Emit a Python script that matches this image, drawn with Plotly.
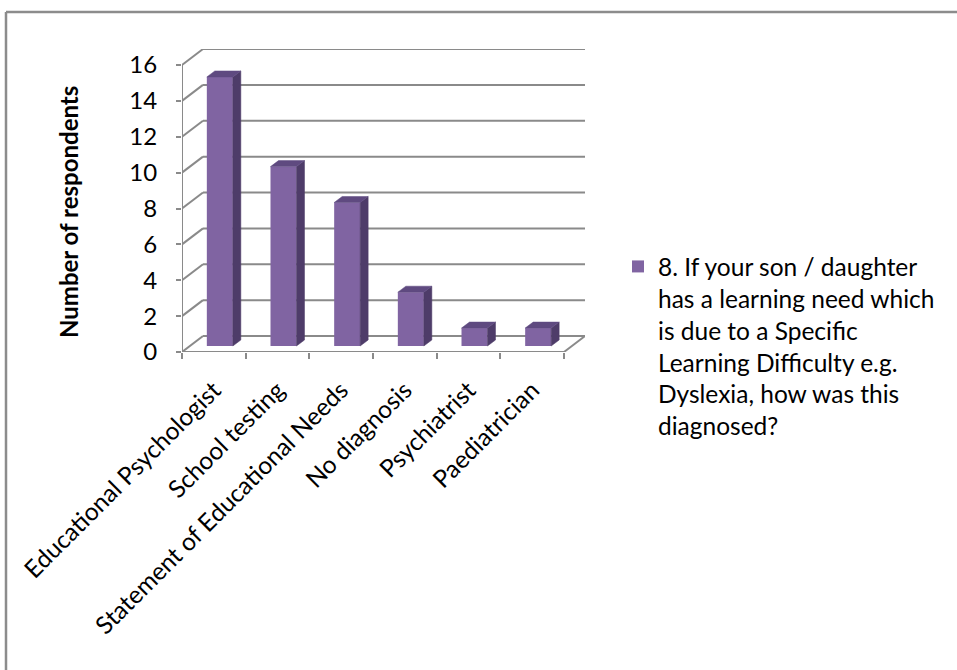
import plotly.graph_objects as go

categories = ["Educational Psychologist", "School testing", "Statement of Educational Needs",
              "No diagnosis", "Psychiatrist", "Paediatrician"]
values = [15, 10, 8, 3, 1, 1]
y_ticks = [0, 2, 4, 6, 8, 10, 12, 14, 16]
series_name = ("8. If your son / daughter<br>has a learning need which<br>is due to a Specific<br>"
               "Learning Difficulty e.g.<br>Dyslexia, how was this<br>diagnosed?")
y_title = "Number of respondents"

W, H = 957, 670
ML, MT = 182, 49
PLOT_R, PLOT_B = 585, 352
MR, MB = W - PLOT_R, H - PLOT_B
PW, PH = PLOT_R - ML, PLOT_B - MT

n = len(categories)
PXU = (564 - 182) / n          # px per category
PYU = (352 - 65) / 16          # px per value unit
DX, DY = 21 / PXU, 16 / PYU    # wall depth
XR0 = -0.5
XR1 = n - 0.5 + DX
YR1 = PH / PYU

BW = 26 / PXU                  # bar width
XOFF, YOFF = 6 / PXU, 6 / PYU  # bar position inside floor depth
BDX, BDY = 8 / PXU, 6 / PYU    # bar depth

FONT = "Lato"
GRID = "#8a8a8a"
FRONT, SIDE, TOP = "#8064A2", "#4E3C69", "#5F4A80"

fig = go.Figure()

xc = [i + XOFF for i in range(n)]
fig.add_trace(go.Bar(x=xc, y=values, base=YOFF, width=BW, name=series_name,
                     marker=dict(color=FRONT, line=dict(width=0)), hoverinfo="skip"))

sx, sy, tx, ty = [], [], [], []
for c, v in zip(xc, values):
    xl, xr = c - BW / 2, c + BW / 2
    b, t = YOFF, YOFF + v
    sx += [xr, xr + BDX, xr + BDX, xr, xr, None]
    sy += [b, b + BDY, t + BDY, t, b, None]
    tx += [xl, xl + BDX, xr + BDX, xr, xl, None]
    ty += [t, t + BDY, t + BDY, t, t, None]
fig.add_trace(go.Scatter(x=sx, y=sy, mode="lines", fill="toself", fillcolor=SIDE,
                         line=dict(width=0.5, color=SIDE), showlegend=False, hoverinfo="skip"))
fig.add_trace(go.Scatter(x=tx, y=ty, mode="lines", fill="toself", fillcolor=TOP,
                         line=dict(width=0.5, color=TOP), showlegend=False, hoverinfo="skip"))

# walls / grid (below traces)
shapes = []
for v in y_ticks:
    shapes.append(dict(type="line", xref="x", yref="y", x0=-0.5, y0=v, x1=-0.5 + DX, y1=v + DY,
                       line=dict(color=GRID, width=2), layer="below"))
    shapes.append(dict(type="line", xref="x", yref="y", x0=-0.5 + DX, y0=v + DY, x1=n - 0.5 + DX, y1=v + DY,
                       line=dict(color=GRID, width=2), layer="below"))
# front y axis line
shapes.append(dict(type="line", xref="x", yref="y", x0=-0.5, y0=0, x1=-0.5, y1=y_ticks[-1],
                   line=dict(color=GRID, width=2), layer="below"))
# floor front edge and right edge
shapes.append(dict(type="line", xref="x", yref="y", x0=-0.5, y0=0, x1=n - 0.5, y1=0,
                   line=dict(color=GRID, width=2), layer="below"))
shapes.append(dict(type="line", xref="x", yref="y", x0=n - 0.5, y0=0, x1=n - 0.5 + DX, y1=DY,
                   line=dict(color=GRID, width=2), layer="below"))
# outer chart border (top and left)
bx = (6 - ML) / PW
by = (PLOT_B - 12) / PH
shapes.append(dict(type="line", xref="paper", yref="paper", x0=bx, y0=by, x1=(W + 5 - ML) / PW, y1=by,
                   line=dict(color="#8c8c8c", width=2.5)))
shapes.append(dict(type="line", xref="paper", yref="paper", x0=bx, y0=by, x1=bx, y1=(PLOT_B - H - 5) / PH,
                   line=dict(color="#8c8c8c", width=2.5)))

fig.update_layout(
    width=W, height=H,
    margin=dict(l=ML, r=MR, t=MT, b=MB, autoexpand=False),
    paper_bgcolor="white", plot_bgcolor="white",
    font=dict(family=FONT, color="#000000", size=24),
    shapes=shapes,
    showlegend=True,
    legend=dict(x=(618 - ML) / PW, y=(PLOT_B - 244) / PH, xanchor="left", yanchor="top",
                valign="top", font=dict(family=FONT, size=24.5, color="#000000"),
                bgcolor="rgba(0,0,0,0)", itemwidth=30, tracegroupgap=0),
    xaxis=dict(range=[XR0, XR1], tickmode="array", tickvals=list(range(n)), ticktext=categories,
               tickangle=-45, ticks="", showgrid=False, zeroline=False, showline=False,
               ticklabelstandoff=18,
               tickfont=dict(family=FONT, size=24.5, color="#000000"),
               minor=dict(tickmode="array", tickvals=[i - 0.5 for i in range(n + 1)], ticks="outside",
                          ticklen=6, tickwidth=2, tickcolor=GRID, showgrid=False),
               fixedrange=True),
    yaxis=dict(range=[0, YR1], tickmode="array", tickvals=y_ticks, ticks="outside", ticklen=5,
               tickwidth=2, tickcolor=GRID, showgrid=False, zeroline=False, showline=False,
               ticklabelstandoff=14,
               tickfont=dict(family=FONT, size=24, color="#000000"), fixedrange=True),
    annotations=[dict(text="<b>" + y_title + "</b>", xref="paper", yref="paper",
                      x=(68 - ML) / PW, y=(PLOT_B - 212) / PH, textangle=-90, showarrow=False,
                      xanchor="center", yanchor="middle",
                      font=dict(family=FONT, size=24, color="#000000"))],
)

fig.write_html("out.html")
